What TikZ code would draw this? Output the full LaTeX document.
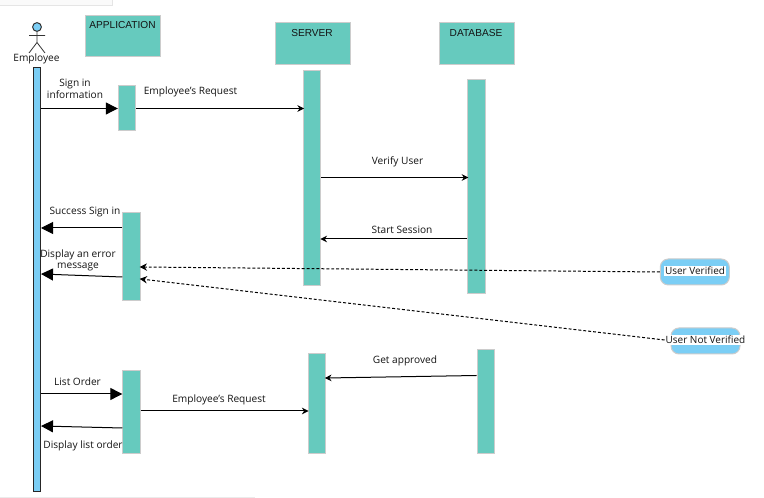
\documentclass[tikz,border=0pt]{standalone}
\usepackage{fontspec}
\setmainfont{Open Sans}
\newfontfamily\headfont{Liberation Sans}
\usetikzlibrary{arrows.meta}
\definecolor{teal1}{HTML}{66CABE}
\definecolor{sky1}{HTML}{7BCEF5}
\definecolor{edge1}{HTML}{CCCCCC}
\tikzset{
 x=0.75pt,y=-0.75pt,
 headbox/.style={draw=edge1,fill=teal1,line width=0.75pt,inner sep=0pt,minimum width=56.25pt,minimum height=31pt},
 bar/.style={draw=edge1,fill=teal1,line width=0.75pt,inner sep=0pt,minimum width=13pt},
 lifebar/.style={draw=black!85,fill=sky1,line width=0.75pt,inner sep=0pt,minimum width=5.25pt,minimum height=318pt},
 state/.style={draw=edge1,fill=sky1,line width=0.75pt,rounded corners=6pt,inner sep=0pt,minimum width=51.75pt,minimum height=19.5pt},
 lbl/.style={font=\fontsize{7.6pt}{8.8pt}\selectfont,inner sep=0pt,align=center,text=black!92},
 htxt/.style={font=\headfont\fontsize{7.6pt}{9pt}\selectfont,inner sep=0pt,text=black!92},
 wbox/.style={font=\fontsize{7.5pt}{8.8pt}\selectfont,inner sep=0.6pt,fill=white,text=black!92},
 bigmsg/.style={draw=black,line width=0.75pt,-{Triangle[length=9pt,width=9pt]}},
 msg/.style={draw=black,line width=0.75pt,shorten >=-0.75pt,-{Stealth[length=5pt,width=5pt]}},
 dmsg/.style={draw=black,line width=0.75pt,shorten >=-0.75pt,dash pattern=on 2.2pt off 1.5pt,-{Stealth[length=5.5pt,width=5.5pt]}},
}
\begin{document}
\begin{tikzpicture}
\useasboundingbox (0,-1) rectangle (764,497);
\fill[white] (0,-1) rectangle (764,497);
% faint window edges
\path[fill=black!2,draw=black!10,line width=0.75pt] (-5,-6) rectangle (112,5);
\path[fill=black!8] (0,496) rectangle (255,497);
% heads
\node[headbox] (apphead) at (122.5,35) {};
\node[htxt] (apptxt) at (122.5,24.5) {APPLICATION};
\node[headbox] (srvhead) at (312.5,42.5) {};
\node[htxt] (srvtxt) at (312,32.5) {SERVER};
\node[headbox] (dbhead) at (476.5,42.5) {};
\node[htxt] (dbtxt) at (476,32.5) {DATABASE};
% actor
\node[circle,draw=black!80,fill=sky1,line width=0.75pt,inner sep=0pt,minimum size=6.6pt] (head) at (37,26) {};
\coordinate (hip) at (37,41.5);
\coordinate (armL) at (29,34.5);
\coordinate (armR) at (45,34.5);
\coordinate (legL) at (29,52);
\coordinate (legR) at (45,52);
\draw[black!80,line width=0.6pt] (head.south) -- (hip) (armL) -- (armR) (legL) -- (hip) -- (legR);
\node[lbl] (emp) at (36.5,58) {Employee};
% bars
\node[lifebar] (life) at (37,278.5) {};
\node[bar,minimum height=33.75pt] (app1) at (127,107) {};
\node[bar,minimum height=66pt] (app2) at (131.5,255.5) {};
\node[bar,minimum height=62.25pt] (app3) at (131.5,411) {};
\node[bar,minimum height=161.25pt] (srv1) at (312.2,177) {};
\node[bar,minimum height=75pt] (srv2) at (316.7,402.5) {};
\node[bar,minimum height=160.5pt] (db1) at (476.5,185.5) {};
\node[bar,minimum height=78pt] (db2) at (485.7,400.5) {};
% notes
\node[state] (uv) at (694.8,271) {};
\node[wbox] (uvt) at (695,270) {User Verified};
\node[state] (unv) at (705.5,340) {};
\node[wbox] (unvt) at (705.5,339) {User Not Verified};
% levels
\foreach \n/\y in {a/107.5,b/176.5,c/238,d/227,e/276,f/273,g/393,h/427,i/425,j/410,k/374.5,m/377,n/271,o/266,p/339,q/278}
  \coordinate (lv\n) at (0,\y);
% messages
\draw[bigmsg] (life.east |- lva) -- (app1.west |- lva);
\draw[msg] (app1.east |- lva) -- (srv1.west |- lva);
\draw[msg] (srv1.east |- lvb) -- (db1.west |- lvb);
\draw[msg] (db1.west |- lvc) -- (srv1.east |- lvc);
\draw[bigmsg] (app2.west |- lvd) -- (life.east |- lvd);
\draw[bigmsg] (app2.west |- lve) -- (life.east |- lvf);
\draw[bigmsg] (life.east |- lvg) -- (app3.west |- lvg);
\draw[bigmsg] (app3.west |- lvh) -- (life.east |- lvi);
\draw[msg] (app3.east |- lvj) -- (srv2.west |- lvj);
\draw[msg] (db2.west |- lvk) -- (srv2.east |- lvm);
\draw[dmsg] (uv.west |- lvn) -- (app2.east |- lvo);
\draw[dmsg] (unvt.west |- lvp) -- (app2.east |- lvq);
% labels
\node[lbl] (l1) at (75,87.5) {Sign in\\information};
\node[lbl] (l2) at (190.5,90.5) {Employee's Request};
\node[lbl] (l3) at (397.5,160.5) {Verify User};
\node[lbl] (l4) at (402,228.5) {Start Session};
\node[lbl] (l5) at (85,211) {Success Sign in};
\node[lbl] (l6) at (78,259.5) {Display an error\\message};
\node[lbl] (l7) at (77.5,380.5) {List Order};
\node[lbl] (l8) at (83,445) {Display list order};
\node[lbl] (l9) at (219,398.5) {Employee's Request};
\node[lbl] (l10) at (405,360) {Get approved};
\end{tikzpicture}
\end{document}
